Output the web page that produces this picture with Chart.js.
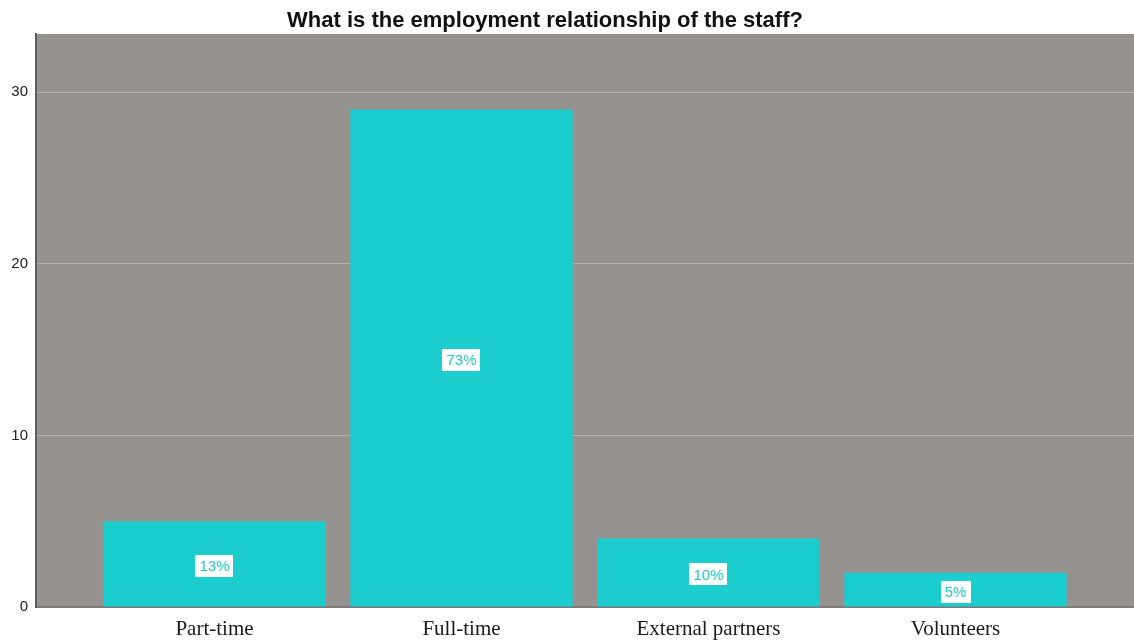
<!DOCTYPE html>
<html>
<head>
<meta charset="utf-8">
<title>Employment relationship of the staff</title>
<script src="https://cdn.jsdelivr.net/npm/chart.js@4/dist/chart.umd.min.js"></script>
<style>
  html, body { margin: 0; padding: 0; background: #ffffff; }
  canvas { display: block; }
</style>
</head>
<body>
<canvas id="chart" width="1134" height="642"></canvas>
<script>
// Survey answers: how many staff members fall in each employment type
const chartTitle = 'What is the employment relationship of the staff?';
const categories = ['Part-time', 'Full-time', 'External partners', 'Volunteers'];
const counts = [5, 29, 4, 2];
const yTicks = [0, 10, 20, 30];
const yMax = 33.4;

const total = counts.reduce((a, b) => a + b, 0);
const percentLabels = counts.map(v => Math.round(v / total * 100) + '%');

const BAR_COLOR = '#1ccdcd';
const PLOT_BG = '#959290';

// Gray plot background behind the bars
const plotBackground = {
  id: 'plotBackground',
  beforeDraw(chart) {
    const { ctx, chartArea: a } = chart;
    ctx.save();
    ctx.fillStyle = PLOT_BG;
    ctx.fillRect(a.left, a.top, a.right - a.left, a.bottom - a.top);
    ctx.restore();
  }
};

// Title text above the plot
const titleText = {
  id: 'titleText',
  afterDraw(chart) {
    const { ctx } = chart;
    ctx.save();
    ctx.font = 'bold 22px "Liberation Sans", Arial, sans-serif';
    ctx.fillStyle = '#111111';
    ctx.textAlign = 'center';
    ctx.textBaseline = 'alphabetic';
    ctx.fillText(chartTitle, 545, 27);
    ctx.restore();
  }
};

// Percentage share of each bar in a white box at the bar's middle
const percentBoxes = {
  id: 'percentBoxes',
  afterDatasetsDraw(chart) {
    const { ctx } = chart;
    const meta = chart.getDatasetMeta(0);
    ctx.save();
    ctx.font = '15px "Liberation Sans", Arial, sans-serif';
    ctx.textAlign = 'center';
    ctx.textBaseline = 'middle';
    meta.data.forEach((bar, i) => {
      const text = percentLabels[i];
      const w = ctx.measureText(text).width + 8;
      const h = 22;
      const cx = bar.x;
      const cy = (bar.y + bar.base) / 2 + 2;
      ctx.fillStyle = '#ffffff';
      ctx.fillRect(Math.round(cx - w / 2), Math.round(cy - h / 2), Math.round(w), h);
      ctx.fillStyle = BAR_COLOR;
      ctx.fillText(text, cx, cy + 1);
    });
    ctx.restore();
  }
};

new Chart(document.getElementById('chart'), {
  type: 'bar',
  data: {
    datasets: [{
      data: counts.map((v, i) => ({ x: i, y: v })),
      backgroundColor: BAR_COLOR,
      borderWidth: 0,
      barPercentage: 0.9,
      categoryPercentage: 1.0
    }]
  },
  options: {
    responsive: false,
    animation: false,
    layout: { padding: { top: 34, right: 0, left: 0, bottom: 0 } },
    plugins: {
      legend: { display: false },
      title: { display: false },
      tooltip: { enabled: false }
    },
    scales: {
      x: {
        type: 'linear',
        min: -0.7227,
        max: 3.7227,
        offset: false,
        bounds: 'data',
        afterBuildTicks(scale) {
          scale.ticks = categories.map((_, i) => ({ value: i }));
        },
        afterFit(scale) { scale.height = 35; },
        grid: { display: false, drawTicks: false },
        border: { display: true, color: '#7d7b7a', width: 2 },
        ticks: {
          padding: 10,
          autoSkip: false,
          maxRotation: 0,
          color: '#1a1a1a',
          font: { family: '"Liberation Serif", "Times New Roman", serif', size: 21 },
          callback: (value) => categories[value] ?? ''
        }
      },
      y: {
        type: 'linear',
        min: 0,
        max: yMax,
        bounds: 'data',
        afterBuildTicks(scale) {
          scale.ticks = yTicks.map(v => ({ value: v }));
        },
        afterFit(scale) { scale.width = 36; },
        grid: { color: '#b3b1af', lineWidth: 1, drawTicks: false },
        border: { display: true, color: '#5f5d5c', width: 2 },
        ticks: {
          padding: 8,
          color: '#222222',
          font: { family: '"Liberation Sans", Arial, sans-serif', size: 15 }
        }
      }
    }
  },
  plugins: [plotBackground, titleText, percentBoxes]
});
</script>
</body>
</html>
